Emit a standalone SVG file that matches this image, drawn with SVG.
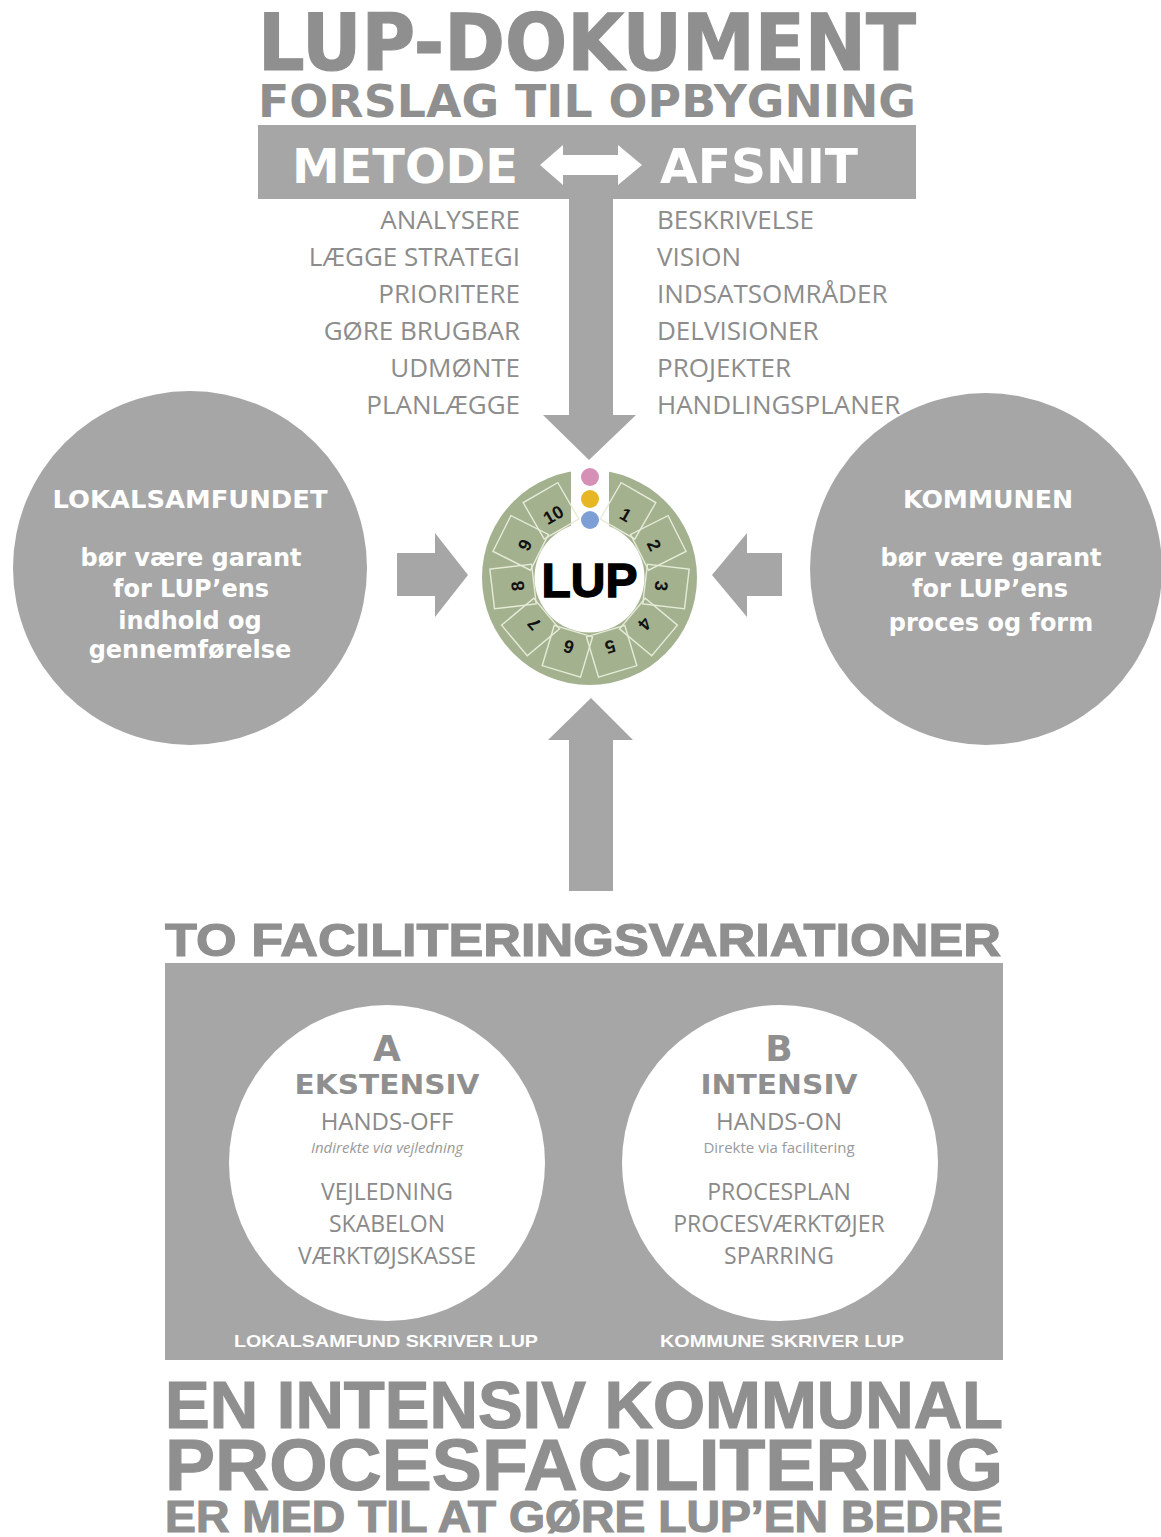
<svg xmlns="http://www.w3.org/2000/svg" width="1161" height="1537" viewBox="0 0 1161 1537">
<style>
.hv{font-family:"DejaVu Sans","Liberation Sans",sans-serif;font-weight:bold}
.ar{font-family:"Liberation Sans",Arial,sans-serif;font-weight:bold}
.os{font-family:"Open Sans","Liberation Sans",sans-serif}
.gt{fill:#8f8f8f}
.gs{fill:#8f8f8f;stroke:#8f8f8f;stroke-width:1.2}
.lt{fill:#8c8c8c;font-size:26px}
.wt{fill:#ffffff}
.blk{fill:#a6a6a6}
.tile{fill:none;stroke:#e6ebd8;stroke-width:1.4}
.num{font-family:"Liberation Sans",Arial,sans-serif;font-weight:bold;font-size:18px;fill:#111}
</style>
<rect width="1161" height="1537" fill="#ffffff"/>

<g id="title">
<text class="hv gs" x="258" y="70" font-size="79" textLength="658" lengthAdjust="spacingAndGlyphs">LUP-DOKUMENT</text>
<text class="hv gt" x="258" y="117" font-size="44" textLength="658" lengthAdjust="spacingAndGlyphs">FORSLAG TIL OPBYGNING</text>
</g>

<g id="header-box">
<rect class="blk" x="258" y="125" width="658" height="74"/>
<text class="hv wt" x="292" y="183" font-size="48" textLength="226" lengthAdjust="spacingAndGlyphs">METODE</text>
<text class="hv wt" x="660" y="183" font-size="48" textLength="198" lengthAdjust="spacingAndGlyphs">AFSNIT</text>
<polygon class="wt" points="540,165 563,145 563,155 618,155 618,145 642,165 618,185 618,175 563,175 563,185"/>
</g>

<g id="metode-list" class="os lt" text-anchor="end">
<text x="520" y="229">ANALYSERE</text>
<text x="520" y="266">LÆGGE STRATEGI</text>
<text x="520" y="303">PRIORITERE</text>
<text x="520" y="340">GØRE BRUGBAR</text>
<text x="520" y="377">UDMØNTE</text>
<text x="520" y="414">PLANLÆGGE</text>
</g>
<g id="afsnit-list" class="os lt">
<text x="657" y="229">BESKRIVELSE</text>
<text x="657" y="266">VISION</text>
<text x="657" y="303">INDSATSOMRÅDER</text>
<text x="657" y="340">DELVISIONER</text>
<text x="657" y="377">PROJEKTER</text>
<text x="657" y="414">HANDLINGSPLANER</text>
</g>

<g id="connectors" fill="#a6a6a6">
<polygon points="569,198 613,198 613,415 636,415 589,460 543,415 569,415"/>
<polygon points="397,553 435,553 435,533 468,575 435,617 435,596 397,596"/>
<polygon points="782,553 747,553 747,533 712,575 747,617 747,596 782,596"/>
<polygon points="569,891 613,891 613,740 633,740 591,698 548,740 569,740"/>
</g>

<g id="lokalsamfundet">
<circle class="blk" cx="190" cy="568" r="177"/>
<g class="hv wt" text-anchor="middle">
<text x="190" y="508" font-size="25" textLength="275" lengthAdjust="spacingAndGlyphs">LOKALSAMFUNDET</text>
<text x="191" y="566" font-size="24">bør være garant</text>
<text x="191" y="597" font-size="24">for LUP’ens</text>
<text x="190" y="629" font-size="24">indhold og</text>
<text x="190" y="658" font-size="24">gennemførelse</text>
</g>
</g>

<g id="kommunen">
<circle class="blk" cx="986" cy="569" r="176"/>
<g class="hv wt" text-anchor="middle">
<text x="988" y="508" font-size="25" textLength="170" lengthAdjust="spacingAndGlyphs">KOMMUNEN</text>
<text x="991" y="566" font-size="24">bør være garant</text>
<text x="990" y="597" font-size="24">for LUP’ens</text>
<text x="991" y="631" font-size="24">proces og form</text>
</g>
</g>

<g id="lup-wheel">
<circle cx="589.5" cy="577.5" r="107.5" fill="#a3b18f"/>
<rect x="571" y="462" width="38" height="66" fill="#ffffff"/>
<g transform="translate(589.5,577.5)">
<g transform="rotate(30)"><rect class="tile" x="-20" y="-98" width="40" height="42"/><text class="num" x="0" y="-72" text-anchor="middle" dominant-baseline="central">1</text></g>
<g transform="rotate(63.3)"><rect class="tile" x="-20" y="-98" width="40" height="42"/><text class="num" x="0" y="-72" text-anchor="middle" dominant-baseline="central">2</text></g>
<g transform="rotate(96.7)"><rect class="tile" x="-20" y="-98" width="40" height="42"/><text class="num" x="0" y="-72" text-anchor="middle" dominant-baseline="central">3</text></g>
<g transform="rotate(130)"><rect class="tile" x="-20" y="-98" width="40" height="42"/><text class="num" x="0" y="-72" text-anchor="middle" dominant-baseline="central">4</text></g>
<g transform="rotate(163.3)"><rect class="tile" x="-20" y="-98" width="40" height="42"/><text class="num" x="0" y="-72" text-anchor="middle" dominant-baseline="central">5</text></g>
<g transform="rotate(196.7)"><rect class="tile" x="-20" y="-98" width="40" height="42"/><text class="num" x="0" y="-72" text-anchor="middle" dominant-baseline="central">6</text></g>
<g transform="rotate(230)"><rect class="tile" x="-20" y="-98" width="40" height="42"/><text class="num" x="0" y="-72" text-anchor="middle" dominant-baseline="central">7</text></g>
<g transform="rotate(263.3)"><rect class="tile" x="-20" y="-98" width="40" height="42"/><text class="num" x="0" y="-72" text-anchor="middle" dominant-baseline="central">8</text></g>
<g transform="rotate(296.7)"><rect class="tile" x="-20" y="-98" width="40" height="42"/><text class="num" x="0" y="-72" text-anchor="middle" dominant-baseline="central">9</text></g>
<g transform="rotate(330)"><rect class="tile" x="-20" y="-98" width="40" height="42"/><text class="num" x="0" y="-72" text-anchor="middle" dominant-baseline="central">10</text></g>
</g>
<circle cx="589.5" cy="577.5" r="55" fill="#ffffff"/>
<circle cx="590" cy="477" r="9" fill="#d690b6"/>
<circle cx="590" cy="499" r="9" fill="#e7b624"/>
<circle cx="590" cy="520" r="9" fill="#7d9fd6"/>
<text class="ar" x="589.5" y="597" font-size="48" text-anchor="middle" fill="#000" stroke="#000" stroke-width="1.4" textLength="96" lengthAdjust="spacingAndGlyphs">LUP</text>
</g>

<g id="variations">
<text class="ar gs" x="165" y="956" font-size="47" textLength="836" lengthAdjust="spacingAndGlyphs">TO FACILITERINGSVARIATIONER</text>
<rect class="blk" x="165" y="963" width="838" height="397"/>
</g>

<g id="variant-a">
<circle cx="387" cy="1163" r="158" fill="#ffffff"/>
<g text-anchor="middle">
<text class="hv gt" x="387" y="1061" font-size="36">A</text>
<text class="hv gt" x="387" y="1094" font-size="27" textLength="185" lengthAdjust="spacingAndGlyphs">EKSTENSIV</text>
<text class="os" x="387" y="1130" font-size="24" fill="#8a8a8a">HANDS-OFF</text>
<text class="os" x="387" y="1153" font-size="15" font-style="italic" fill="#9a9a9a">Indirekte via vejledning</text>
<text class="os" x="387" y="1200" font-size="23" fill="#8a8a8a">VEJLEDNING</text>
<text class="os" x="387" y="1232" font-size="23" fill="#8a8a8a">SKABELON</text>
<text class="os" x="387" y="1264" font-size="23" fill="#8a8a8a">VÆRKTØJSKASSE</text>
</g>
</g>

<g id="variant-b">
<circle cx="780" cy="1163" r="158" fill="#ffffff"/>
<g text-anchor="middle">
<text class="hv gt" x="779" y="1061" font-size="36">B</text>
<text class="hv gt" x="779" y="1094" font-size="27" textLength="157" lengthAdjust="spacingAndGlyphs">INTENSIV</text>
<text class="os" x="779" y="1130" font-size="24" fill="#8a8a8a">HANDS-ON</text>
<text class="os" x="779" y="1153" font-size="15" fill="#9a9a9a">Direkte via facilitering</text>
<text class="os" x="779" y="1200" font-size="23" fill="#8a8a8a">PROCESPLAN</text>
<text class="os" x="779" y="1232" font-size="23" fill="#8a8a8a">PROCESVÆRKTØJER</text>
<text class="os" x="779" y="1264" font-size="23" fill="#8a8a8a">SPARRING</text>
</g>
</g>

<g id="writer-labels" class="ar wt" text-anchor="middle" font-size="17">
<text x="386" y="1347" textLength="304" lengthAdjust="spacingAndGlyphs">LOKALSAMFUND SKRIVER LUP</text>
<text x="782" y="1347" textLength="244" lengthAdjust="spacingAndGlyphs">KOMMUNE SKRIVER LUP</text>
</g>

<g id="conclusion">
<text class="ar gs" x="165" y="1428" font-size="66" textLength="838" lengthAdjust="spacingAndGlyphs">EN INTENSIV KOMMUNAL</text>
<text class="ar gs" x="165" y="1490" font-size="72" textLength="838" lengthAdjust="spacingAndGlyphs">PROCESFACILITERING</text>
<text class="ar gs" x="165" y="1532" font-size="45" textLength="838" lengthAdjust="spacingAndGlyphs">ER MED TIL AT GØRE LUP’EN BEDRE</text>
</g>
</svg>
